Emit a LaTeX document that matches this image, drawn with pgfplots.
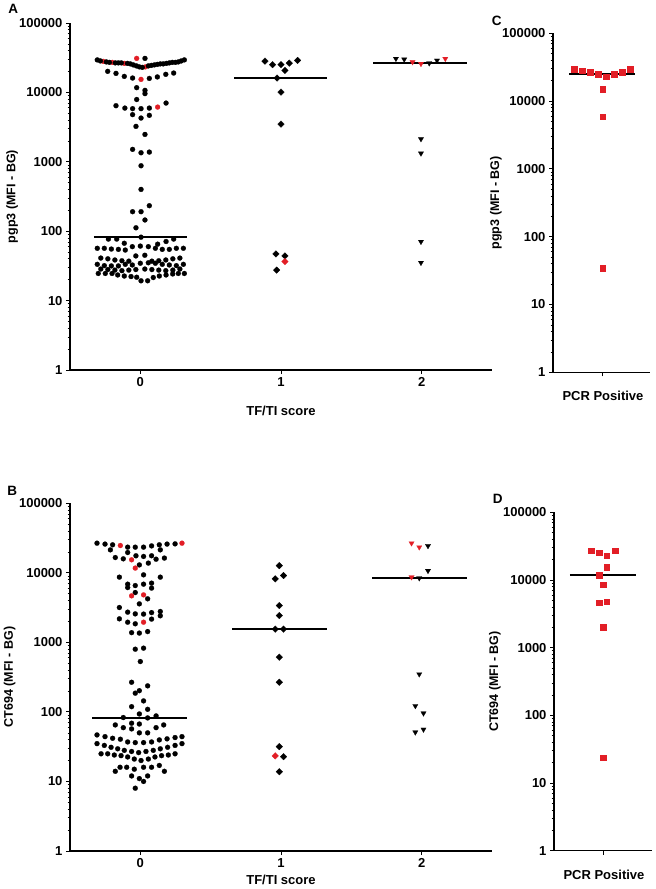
\documentclass[border=0pt]{standalone}
\usepackage{fontspec}
\setmainfont{Liberation Sans}
\usepackage{pgfplots}
\pgfplotsset{compat=1.18}
\definecolor{myred}{RGB}{226,30,38}
\pgfplotsset{
  myaxis/.style={
    scale only axis,
    axis x line*=bottom,
    axis y line*=left,
    axis line style={-, line width=1.1pt, black},
    tick align=outside,
    major tick length=4pt,
    minor tick length=2.3pt,
    major tick style={line width=0.9pt, black},
    minor tick style={line width=0.7pt, black},
    ytick={1,10,100,1000,10000,100000},
    yticklabels={1,10,100,1000,10000,100000},
    minor ytick={2,3,4,5,6,7,8,9,20,30,40,50,60,70,80,90,200,300,400,500,600,700,800,900,2000,3000,4000,5000,6000,7000,8000,9000,20000,30000,40000,50000,60000,70000,80000,90000},
    tick label style={font=\bfseries\fontsize{13}{15}\selectfont},
    clip=false,
  },
  circ/.style={only marks, color=#1, mark=*, mark size=2.5pt, mark options={solid, draw=#1, fill=#1, line width=0.2pt}},
  diam/.style={only marks, color=#1, mark=square*, mark size=2.35pt, mark options={solid, rotate=45, draw=#1, fill=#1, line width=0.2pt}},
  tri/.style={only marks, color=#1, mark=triangle*, mark size=3.1pt, mark options={solid, rotate=180, draw=#1, fill=#1, line width=0.2pt}},
  sq/.style={only marks, color=#1, mark=square*, mark size=2.75pt, mark options={solid, draw=#1, fill=#1, line width=0.2pt}},
  med/.style={black, line width=1.8pt, no marks},
}
\newcommand{\lblfont}{\bfseries\fontsize{12.5}{15}\selectfont}
\begin{document}
\begin{tikzpicture}
\useasboundingbox (0,0) rectangle (656pt,889pt);
% ---------------- Panel A ----------------
\begin{axis}[ymode=log, ymin=1, ymax=100000, myaxis, at={(70pt,519pt)}, anchor=south west, width=422pt, height=347pt,
  xmin=-0.5, xmax=2.5, xtick={0,1,2}, xticklabels={0,1,2}]
% red points hidden in the dense band
\addplot[circ=myred] coordinates {(-0.263,27970) (-0.199,27060) (-0.114,26180) (0.036,23310)};
% black points, score 0
\addplot[circ=black] coordinates {
(-0.306,29400) (-0.284,28400) (-0.242,27510) (-0.220,27060) (-0.178,26620) (-0.156,26620)
(-0.135,26620) (-0.092,26180) (-0.071,25750) (-0.050,24910) (-0.028,24090) (-0.007,23310)
(0.014,22930) (0.057,24090) (0.078,24490) (0.100,24910) (0.121,25320) (0.142,25750)
(0.163,25750) (0.185,26180) (0.206,26620) (0.227,27060) (0.249,27060) (0.270,27510)
(0.291,28400) (0.313,29400)
(0.033,30900)
(-0.232,20100) (-0.173,18800) (-0.114,17000) (-0.055,16100) (0.064,15900) (0.121,16700) (0.181,18200) (0.237,19000)
(-0.026,11700) (0.033,10700) (0.033,9600) (-0.026,7900)
(-0.173,6430) (-0.110,5940) (-0.055,5830) (0.005,5830) (0.064,5940) (0.183,7020)
(-0.055,4780) (0.005,4270) (0.064,4670)
(-0.031,3240) (0.033,2480)
(-0.055,1510) (0.005,1350) (0.064,1380)
(0.005,877) (0.005,400)
(-0.055,191) (0.005,191) (0.064,233) (0.033,145) (-0.031,112)
(-0.227,77) (-0.168,77) (-0.114,67) (0.005,82) (0.123,65) (0.183,71) (0.237,77)
(-0.306,56.7) (-0.256,56.7) (-0.206,55.3) (-0.156,54.7) (-0.107,53.5) (-0.057,59.9) (0,61)
(0.057,59.9) (0.107,56.7) (0.156,54.7) (0.206,54.7) (0.256,56.7) (0.306,56.7)
(-0.281,41) (-0.231,40) (-0.181,38.5) (-0.131,37.5) (-0.082,37) (-0.032,44) (0.032,45)
(0.082,37) (0.131,37.5) (0.181,38.5) (0.231,40) (0.281,41)
(-0.306,33.3) (-0.256,31.9) (-0.206,31.6) (-0.156,31.6) (-0.107,33.3) (-0.057,32.6) (0,34.5)
(0.057,35.1) (0.107,34.5) (0.156,33.3) (0.206,32.6) (0.256,31.9) (0.306,33.3)
(-0.281,28.5) (-0.231,28) (-0.181,27.5) (-0.131,27) (-0.082,27.5) (-0.032,28) (0.032,28.5)
(0.082,28) (0.131,27.5) (0.181,27) (0.231,27.5) (0.281,28.5)
(-0.299,24.6) (-0.249,24.6) (-0.201,24.6) (-0.161,23.4) (-0.114,22.6) (-0.066,22.2) (-0.026,21.7)
(0.092,21.5) (0.135,22.6) (0.183,23.4) (0.230,24.2) (0.270,24.6) (0.313,24.6)
(0.005,19.3) (0.052,19.3)
};
\addplot[circ=myred] coordinates {(-0.026,30900) (0.005,15400) (0.123,6140)};
% score 1
\addplot[diam=black] coordinates {(0.886,28200) (0.940,25100) (1.000,25100) (1.059,26400) (1.118,28900)
(1.028,20700) (0.972,16100) (1.000,10100) (1.000,3490) (0.964,47) (1.028,44) (0.969,27.5)};
\addplot[diam=myred] coordinates {(1.028,36.5)};
% score 2
\addplot[tri=black] coordinates {(1.817,30600) (1.876,29900) (2.054,26400) (2.109,28900)
(1.995,2130) (1.995,1325) (1.995,70.6) (1.995,35.2)};
\addplot[tri=myred] coordinates {(1.935,27400) (1.995,25900) (2.168,30600)};
% medians
\addplot[med] coordinates {(-0.33,82) (0.33,82)};
\addplot[med] coordinates {(0.668,16200) (1.329,16200)};
\addplot[med] coordinates {(1.656,26400) (2.324,26400)};
\node[rotate=90, font=\lblfont] at (axis description cs:-0.137,0.5) {pgp3 (MFI - BG)};
\node[font=\bfseries\fontsize{13}{15}\selectfont] at (axis description cs:0.5,-0.118) {TF/TI score};
\end{axis}
% ---------------- Panel C ----------------
\begin{axis}[ymode=log, ymin=1, ymax=100000, myaxis, at={(553pt,516.7pt)}, anchor=south west, width=97pt, height=339pt,
  xmin=-0.51, xmax=0.49, xtick={0}, xticklabels={}]
\addplot[sq=myred] coordinates {(-0.291,29800) (-0.208,28100) (-0.129,26600) (-0.043,25100)
(0.036,22900) (0.122,25100) (0.204,26600) (0.284,29600) (0,15100) (0,5890) (0,34.5)};
\addplot[med] coordinates {(-0.345,25100) (0.335,25100)};
\node[rotate=90, font=\lblfont] at (axis description cs:-0.588,0.5) {pgp3 (MFI - BG)};
\node[font=\bfseries\fontsize{13}{15}\selectfont] at (axis description cs:0.515,-0.069) {PCR Positive};
\end{axis}
% ---------------- Panel B ----------------
\begin{axis}[ymode=log, ymin=1, ymax=100000, myaxis, at={(70pt,38pt)}, anchor=south west, width=422pt, height=347.7pt,
  xmin=-0.5, xmax=2.5, xtick={0,1,2}, xticklabels={0,1,2}]
\addplot[circ=black] coordinates {
(-0.308,26700) (-0.251,25900) (-0.197,25300) (-0.090,23400) (-0.036,23400) (0.023,23400)
(0.080,24400) (0.135,25300) (0.190,25900) (0.247,26100)
(-0.213,21400) (-0.090,19600) (0.142,21400)
(-0.178,16600) (-0.121,15900) (-0.031,17600) (0.023,17200) (0.080,17600) (0.112,15700) (0.171,16300)
(-0.007,13000) (0.057,13800)
(-0.149,8670) (0.023,9350) (0.142,8670)
(-0.090,6870) (-0.090,6140) (-0.036,6560) (0.023,6870) (0.080,7110) (0.080,6030)
(-0.036,5210) (0.052,4230) (-0.007,3580)
(-0.149,3170) (-0.090,2720) (-0.036,2570) (0.023,2550) (0.080,2680) (0.142,2780) (0.142,2410)
(-0.149,2180) (-0.090,1950) (-0.036,1850) (0.080,2160)
(-0.062,1380) (-0.007,1360) (0.052,1430)
(-0.036,798) (0.023,826) (0,530)
(-0.062,267) (-0.036,186) (-0.007,202) (0.052,237) (0.023,144) (-0.062,119) (-0.007,93.5) (0.052,109)
(-0.121,83) (0.052,82) (0.112,87.6)
(-0.178,65) (-0.121,59.4) (-0.062,68.8) (-0.062,57) (-0.007,67) (-0.007,50) (0.052,50) (0.112,59.4) (0.166,65)
(-0.308,46.7) (-0.251,44.1) (-0.197,41.8) (-0.142,40.5) (-0.090,37) (-0.036,36.2) (0.023,36.2)
(0.080,37) (0.135,39.6) (0.190,41) (0.247,42.8) (0.296,44.1)
(-0.308,35) (-0.256,33) (-0.208,31) (-0.161,29.5) (-0.114,28) (-0.062,27) (-0.012,26)
(0.040,27) (0.092,28) (0.142,29.5) (0.194,31) (0.247,33) (0.296,35)
(-0.279,25) (-0.232,25) (-0.185,24) (-0.137,23.5) (-0.090,22.5) (-0.043,21) (0.005,20)
(0.057,21) (0.104,22.5) (0.151,23.5) (0.199,24) (0.247,25)
(-0.178,14) (-0.144,16) (-0.097,16) (-0.043,15) (0.023,16) (0.080,16) (0.135,17) (0.171,14)
(-0.062,12) (-0.007,11) (0.023,10) (0.052,12)
(-0.036,8)
};
\addplot[circ=myred] coordinates {(-0.142,24700) (0.296,26700) (-0.062,15400) (-0.036,11700)
(-0.062,4670) (0.023,4820) (0.023,1950)};
% score 1
\addplot[diam=black] coordinates {(0.988,12700) (0.959,8200) (1.018,9150) (0.988,3380) (0.988,2430)
(0.959,1550) (1.018,1550) (0.988,612) (0.988,267) (0.988,31.7) (1.018,22.7) (0.988,13.8)};
\addplot[diam=myred] coordinates {(0.959,23.3)};
% score 2
\addplot[tri=black] coordinates {(2.045,24400) (2.045,10700) (1.983,8400) (1.983,349) (1.955,122)
(2.013,95.7) (1.955,51) (2.013,56)};
\addplot[tri=myred] coordinates {(1.928,26700) (1.983,23400) (1.928,8670)};
% medians
\addplot[med] coordinates {(-0.341,82.8) (0.334,82.8)};
\addplot[med] coordinates {(0.654,1550) (1.329,1550)};
\addplot[med] coordinates {(1.649,8400) (2.324,8400)};
\node[rotate=90, font=\lblfont] at (axis description cs:-0.143,0.5) {CT694 (MFI - BG)};
\node[font=\bfseries\fontsize{13}{15}\selectfont] at (axis description cs:0.5,-0.083) {TF/TI score};
\end{axis}
% ---------------- Panel D ----------------
\begin{axis}[ymode=log, ymin=1, ymax=100000, myaxis, at={(554pt,38.3pt)}, anchor=south west, width=98pt, height=338.4pt,
  xmin=-0.5, xmax=0.5, xtick={0}, xticklabels={}]
\addplot[sq=myred] coordinates {(-0.122,27000) (-0.041,25200) (0.038,22800) (0.122,27000)
(0.038,15400) (-0.041,11800) (0,8610) (-0.041,4670) (0.038,4770) (0,2000) (0,23.6)};
\addplot[med] coordinates {(-0.337,11800) (0.337,11800)};
\node[rotate=90, font=\lblfont] at (axis description cs:-0.602,0.5) {CT694 (MFI - BG)};
\node[font=\bfseries\fontsize{13}{15}\selectfont] at (axis description cs:0.51,-0.070) {PCR Positive};
\end{axis}
% panel letters
\node[font=\bfseries\fontsize{13.5}{16}\selectfont] at (13.3pt,879.7pt) {A};
\node[font=\bfseries\fontsize{13.5}{16}\selectfont] at (12.3pt,398.3pt) {B};
\node[font=\bfseries\fontsize{13.5}{16}\selectfont] at (496.7pt,868.3pt) {C};
\node[font=\bfseries\fontsize{13.5}{16}\selectfont] at (497.7pt,390pt) {D};
\end{tikzpicture}
\end{document}
